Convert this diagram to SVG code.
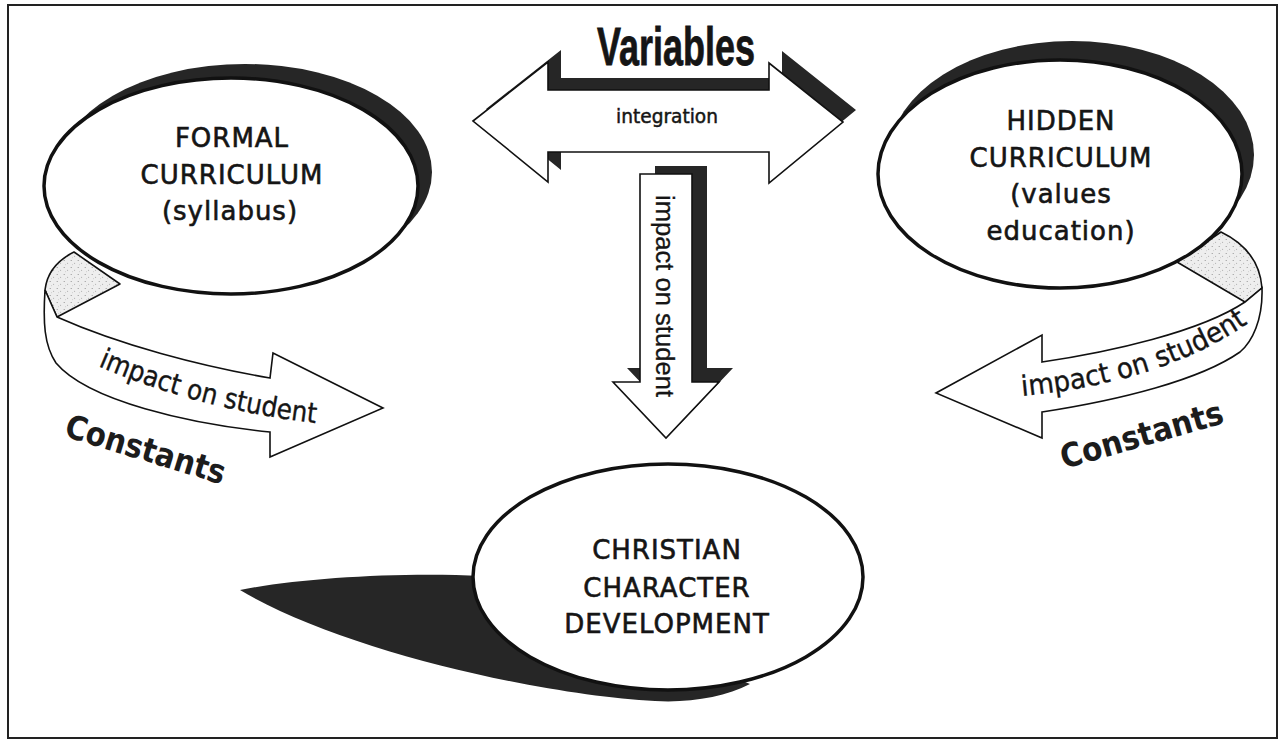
<svg xmlns="http://www.w3.org/2000/svg" width="1284" height="744" viewBox="0 0 1284 744">
  <defs>
    <!-- speckled fill for the inner face of the looping ribbons -->
    <pattern id="stipple" width="7" height="7" patternUnits="userSpaceOnUse">
      <rect width="7" height="7" fill="#eeeeee"/>
      <circle cx="1.2" cy="1.5" r="0.6" fill="#8a8a8a"/>
      <circle cx="4.6" cy="4.2" r="0.55" fill="#a0a0a0"/>
      <circle cx="2.5" cy="5.8" r="0.45" fill="#b0b0b0"/>
    </pattern>
    <path id="curveLeft" d="M98,366 Q200,410 322,424"/>
    <path id="curveRight" d="M1022,396 Q1170,382 1258,316"/>
  </defs>
  <style>
    .frame { fill: #ffffff; stroke: #222222; stroke-width: 2; }
    .shadow { fill: #262626; }
    .node { fill: #ffffff; stroke: #111111; stroke-width: 3.5; }
    .arrow { fill: #ffffff; stroke: #111111; stroke-width: 1.6; stroke-linejoin: miter; }
    .back { fill: url(#stipple); stroke: #111111; stroke-width: 1.6; stroke-linejoin: round; }
    .label { font-family: "DejaVu Sans", "Liberation Sans", sans-serif; font-size: 26px; letter-spacing: 1px; fill: #151515; stroke: #151515; stroke-width: 0.6; text-anchor: middle; }
    .small { font-family: "DejaVu Sans", "Liberation Sans", sans-serif; font-size: 20px; fill: #151515; stroke: #151515; stroke-width: 0.5; text-anchor: middle; }
    .band-text { font-family: "DejaVu Sans", "Liberation Sans", sans-serif; font-size: 28px; fill: #151515; stroke: #151515; stroke-width: 0.4; }
    .title { font-family: "Liberation Sans", "DejaVu Sans", sans-serif; font-weight: bold; font-size: 53px; fill: #151515; stroke: #151515; stroke-width: 0.8; }
    .const { font-family: "DejaVu Sans", "Liberation Sans", sans-serif; font-weight: bold; font-size: 33px; fill: #1c1c1c; }
    .down-text { font-family: "Liberation Sans", "DejaVu Sans", sans-serif; font-size: 26px; fill: #151515; stroke: #151515; stroke-width: 0.3; }
  </style>

  <rect class="frame" x="8" y="5" width="1269" height="733"/>

  <g id="connectors">
    <!-- integration: double-headed arrow with drop shadow -->
    <g id="integration-arrow">
      <path class="shadow" transform="translate(13,-12)" d="M473,121 L548,62 L548,90 L769,90 L769,63 L843,122 L769,183 L769,152 L548,152 L548,182 Z"/>
      <path class="arrow" d="M473,121 L548,62 L548,90 L769,90 L769,63 L843,122 L769,183 L769,152 L548,152 L548,182 Z"/>
      <text class="title" x="676" y="65" text-anchor="middle" textLength="158" lengthAdjust="spacingAndGlyphs">Variables</text>
      <text class="small" x="667" y="123" textLength="102" lengthAdjust="spacingAndGlyphs">integration</text>
    </g>

    <!-- downward arrow into character development -->
    <g id="impact-down-arrow">
      <path class="shadow" d="M655,166 L707,166 L707,368 L733,368 L680,424 L627,368 L655,368 Z"/>
      <path class="arrow" d="M640,174 L692,174 L692,382 L719,382 L666,438 L613,382 L640,382 Z"/>
      <text class="down-text" transform="translate(656,195) rotate(90)" textLength="202" lengthAdjust="spacingAndGlyphs">impact on student</text>
    </g>

    <!-- left ribbon looping round the formal curriculum -->
    <g id="formal-loop">
      <path class="back" d="M74,252 C58,260 47,272 45,290 L57,317 L120,284 Z"/>
      <path class="arrow" d="M45,290 C43,322 44,345 56,363 C88,401 190,424 270,432 L270,457 L383,408 L273,353 L270,378 C200,366 120,345 57,317 Z"/>
      <text class="band-text"><textPath href="#curveLeft" textLength="226" lengthAdjust="spacingAndGlyphs">impact on student</textPath></text>
      <text class="const" transform="translate(63,436) rotate(17)" textLength="166" lengthAdjust="spacingAndGlyphs">Constants</text>
    </g>

    <!-- right ribbon looping round the hidden curriculum -->
    <g id="hidden-loop">
      <path class="back" d="M1221,232 C1246,244 1260,262 1262,288 L1245,302 L1177,262 Z"/>
      <path class="arrow" d="M1262,288 C1263,320 1252,342 1240,352 C1200,380 1120,400 1042,412 L1042,438 L936,393 L1042,335 L1042,362 C1110,352 1200,332 1245,302 Z"/>
      <text class="band-text"><textPath href="#curveRight" textLength="240" lengthAdjust="spacingAndGlyphs">impact on student</textPath></text>
      <text class="const" transform="translate(1064,469) rotate(-16)" textLength="168" lengthAdjust="spacingAndGlyphs">Constants</text>
    </g>
  </g>

  <g id="formal-curriculum">
    <ellipse class="shadow" cx="245" cy="172" rx="187" ry="108"/>
    <ellipse class="node" cx="231" cy="186" rx="187" ry="108"/>
    <text class="label" x="232" y="147">FORMAL</text>
    <text class="label" x="232" y="184">CURRICULUM</text>
    <text class="label" x="230" y="220">(syllabus)</text>
  </g>

  <g id="hidden-curriculum">
    <ellipse class="shadow" cx="1072" cy="155" rx="182" ry="114"/>
    <ellipse class="node" cx="1060" cy="174" rx="182" ry="114"/>
    <text class="label" x="1061" y="130">HIDDEN</text>
    <text class="label" x="1061" y="167">CURRICULUM</text>
    <text class="label" x="1061" y="203">(values</text>
    <text class="label" x="1061" y="240">education)</text>
  </g>

  <g id="christian-character">
    <path class="shadow" d="M240,590 C300,578 400,572 482,576 L750,684 C725,697 690,703 655,701 C540,695 340,650 240,590 Z"/>
    <ellipse class="node" cx="668" cy="577" rx="195" ry="113"/>
    <text class="label" x="667" y="559">CHRISTIAN</text>
    <text class="label" x="667" y="597">CHARACTER</text>
    <text class="label" x="667" y="633">DEVELOPMENT</text>
  </g>
</svg>
